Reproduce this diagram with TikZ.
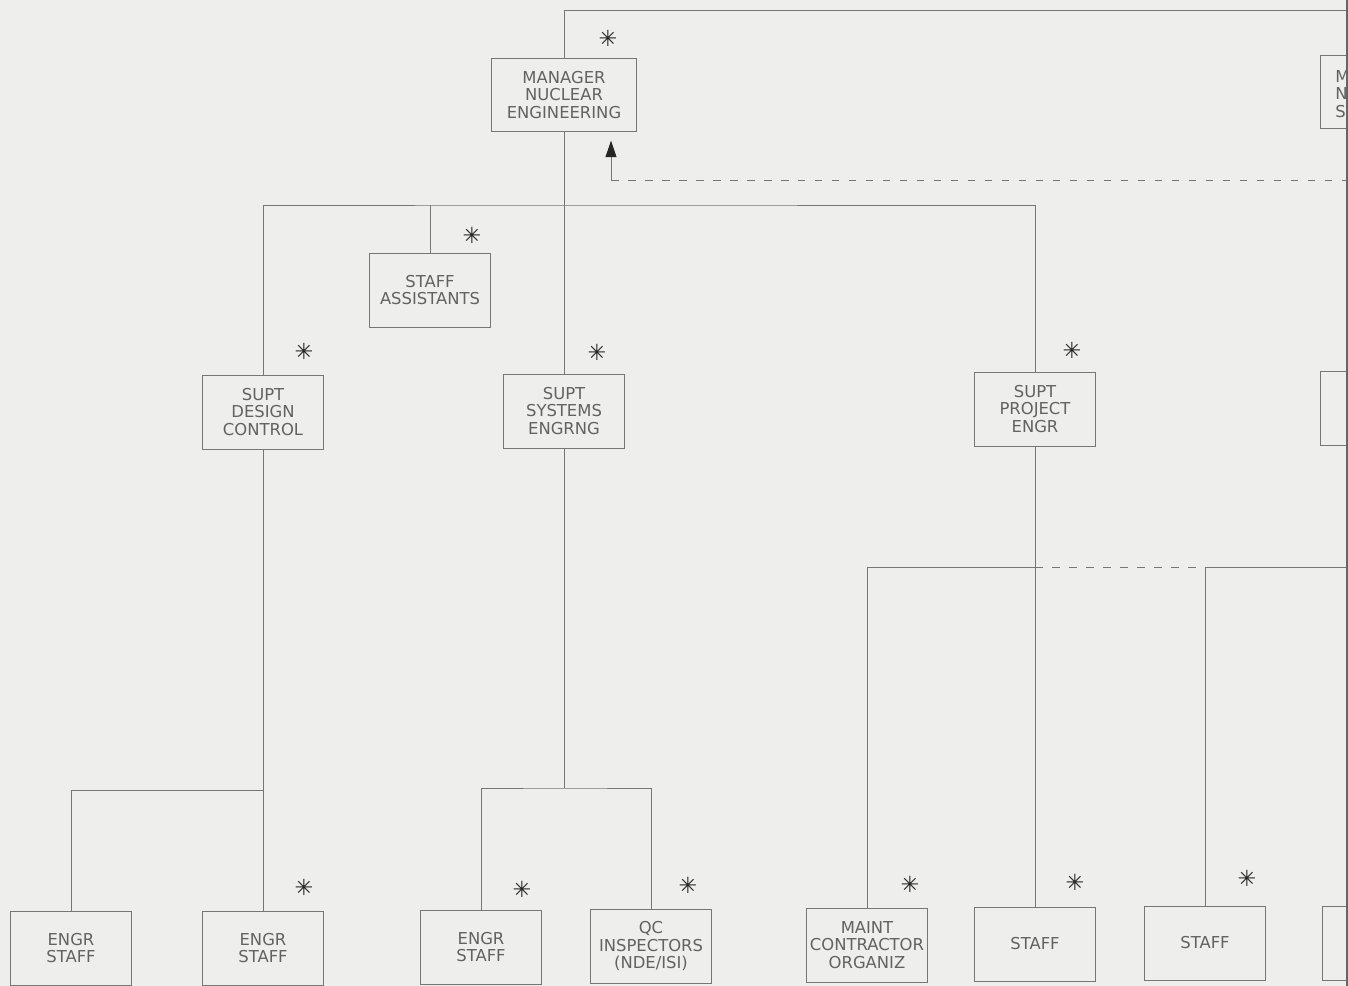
\documentclass[tikz,border=0pt]{standalone}
\usepackage{fontspec}
\newfontfamily\plotfont{DejaVu Sans}
\usetikzlibrary{arrows.meta}
\definecolor{paper}{RGB}{238,238,236}
\definecolor{ink}{RGB}{118,118,118}
\definecolor{lettering}{RGB}{98,98,98}

\begin{document}
\begin{tikzpicture}[x=0.03cm, y=-0.03cm,
    box/.style={draw=ink, line width=0.7pt, minimum width=3.63cm, minimum height=2.22cm,
        inner sep=0pt, align=center, text=lettering, font=\plotfont\fontsize{14}{15}\selectfont},
    link/.style={draw=ink, line width=0.7pt},
    dashed link/.style={link, dash pattern=on 6.5pt off 8pt},
    asterisk/.style={inner sep=0pt, text=black!85, font=\plotfont\fontsize{19}{19}\selectfont}]

    % paper
    \clip (0,0) rectangle (1348,986);
    \fill[paper] (0,0) rectangle (1348,986);

    % top level
    \node[box, minimum width=4.35cm, minimum height=2.19cm] (mgr) at (564,95) {MANAGER\\NUCLEAR\\ENGINEERING};
    \node[box, anchor=west, minimum width=4.35cm, minimum height=2.19cm] (mns) at (1320,92) {};
    \node[anchor=west, inner sep=0pt, align=left, text=lettering, font=\plotfont\fontsize{14}{15}\selectfont] (mnstxt) at (1335,94) {M\\N\\S};

    % second level
    \node[box] (sa) at (430,290) {STAFF\\ASSISTANTS};
    \node[box] (sdc) at (263,412) {SUPT\\DESIGN\\CONTROL};
    \node[box] (sse) at (564,411) {SUPT\\SYSTEMS\\ENGRNG};
    \node[box] (spe) at (1035,409) {SUPT\\PROJECT\\ENGR};
    \node[box, anchor=west] (rmid) at (1320,408) {};

    % third level
    \node[box] (es1) at (71,948) {ENGR\\STAFF};
    \node[box] (es2) at (263,948) {ENGR\\STAFF};
    \node[box] (es3) at (481,947) {ENGR\\STAFF};
    \node[box] (qc) at (651,946) {QC\\INSPECTORS\\(NDE/ISI)};
    \node[box] (mco) at (867,945) {MAINT\\CONTRACTOR\\ORGANIZ};
    \node[box] (st1) at (1035,944) {STAFF};
    \node[box] (st2) at (1205,943) {STAFF};
    \node[box, anchor=west] (rbot) at (1322,943) {};

    % asterisks
    \node[asterisk] (ast1) at (608,38) {✳};
    \node[asterisk] (ast2) at (472,235) {✳};
    \node[asterisk] (ast3) at (304,351) {✳};
    \node[asterisk] (ast4) at (597,352) {✳};
    \node[asterisk] (ast5) at (1072,350) {✳};
    \node[asterisk] (ast6) at (304,887) {✳};
    \node[asterisk] (ast7) at (522,889) {✳};
    \node[asterisk] (ast8) at (688,885) {✳};
    \node[asterisk] (ast9) at (910,884) {✳};
    \node[asterisk] (ast10) at (1075,882) {✳};
    \node[asterisk] (ast11) at (1247,878) {✳};

    % connector points
    \coordinate (topR) at (1348,10);
    \coordinate (bus) at (564,205);
    \coordinate (fb) at (611,180);
    \coordinate (fbR) at (1348,180);
    \coordinate (dcbus) at (263,790);
    \coordinate (sebus) at (564,788);
    \coordinate (pebus) at (1035,567);
    \coordinate (pebR) at (1348,567);

    % upper lines
    \draw[link] (mgr.north) |- (topR);
    \draw[link] (mgr.south) -- (sse.north);
    \draw[link] (sdc.north) |- (bus) -| (spe.north);
    \draw[link] (sa.north) -- (sa.north |- bus);
    \draw[link, -{Triangle[width=0.33cm, length=0.5cm, color=black!85, fill=black!85]}, shorten >=0.26cm] (fb) -- (fb |- mgr.south);
    \draw[dashed link] (fb) -- (fbR);

    % lower lines
    \draw[link] (sdc.south) -- (es2.north);
    \draw[link] (es1.north) |- (dcbus);
    \draw[link] (sse.south) -- (sebus);
    \draw[link] (es3.north) |- (sebus) -| (qc.north);
    \draw[link] (spe.south) -- (st1.north);
    \draw[link] (mco.north) |- (pebus);
    \draw[dashed link] (pebus) -- (st2.north |- pebus);
    \draw[link] (st2.north) |- (pebR);

    % page edge
    \draw[line width=1.6pt, black!60] (1347,0) -- (1347,986);
\end{tikzpicture}
\end{document}
